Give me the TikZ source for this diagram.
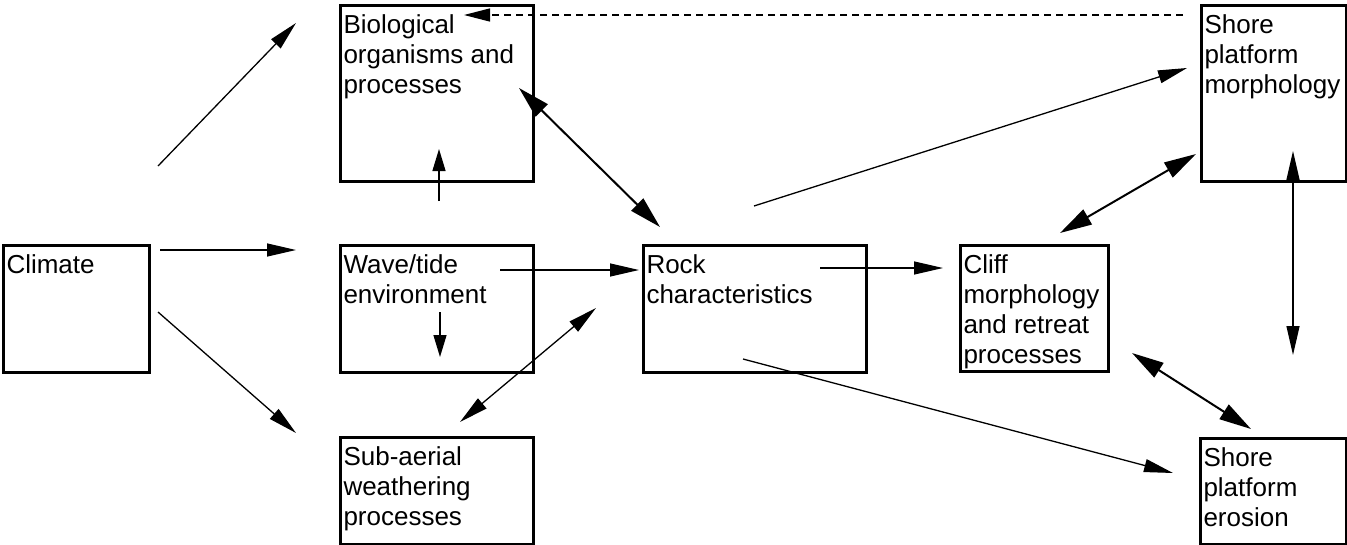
\documentclass[tikz,border=0pt]{standalone}
\usepackage{fontspec}
\setmainfont{Liberation Sans}
\usetikzlibrary{arrows.meta}
\newcommand{\bxt}[3]{\parbox[t][#2][t]{#1}{\raggedright\rule{0pt}{28pt}#3}}
\begin{document}
\begin{tikzpicture}[x=1pt,y=-1pt,
  box/.style={draw, line width=3pt, inner xsep=3pt, inner ysep=0pt, anchor=north west, font=\fontsize{26}{30}\selectfont},
  thin/.style={line width=1.3pt, -{Triangle[length=29pt,width=13pt]}},
  thinboth/.style={line width=1.3pt, {Triangle[length=29pt,width=13pt]}-{Triangle[length=29pt,width=13pt]}},
  thickboth/.style={line width=2pt, {Triangle[length=32pt,width=17pt]}-{Triangle[length=32pt,width=17pt]}},
  short/.style={line width=1.3pt, -{Triangle[length=22pt,width=13pt]}},
  dashedarrow/.style={line width=1.3pt, dash pattern=on 7pt off 5pt, -{Triangle[length=26pt,width=13pt]}}
]
\useasboundingbox (0,0) rectangle (1347,544);

\node[box] (clim) at (2,244) {\bxt{140pt}{127pt}{Climate}};
\node[box] (bio) at (339,4) {\bxt{187pt}{176pt}{Biological\\organisms and\\processes}};
\node[box] (wave) at (339,244) {\bxt{187pt}{127pt}{Wave/tide\\environment}};
\node[box] (sub) at (339,436) {\bxt{187pt}{107pt}{Sub-aerial\\weathering\\processes}};
\node[box] (rock) at (642,244) {\bxt{217pt}{127pt}{Rock\\characteristics}};
\node[box] (cliff) at (959,244) {\bxt{142pt}{126pt}{Cliff\\morphology\\and retreat\\processes}};
\node[box] (spm) at (1200,4) {\bxt{139pt}{176pt}{Shore\\platform\\morphology}};
\node[box] (spe) at (1199,437) {\bxt{140pt}{106pt}{Shore\\platform\\erosion}};

% free ends of connectors
\coordinate (cb1) at (158,166); \coordinate (cb2) at (296,23);
\coordinate (cw1) at (160,250); \coordinate (cw2) at (296,250);
\coordinate (cs1) at (158,312); \coordinate (cs2) at (296,433);
\coordinate (wb1) at (439,201); \coordinate (wb2) at (439,149);
\coordinate (wd1) at (440,312); \coordinate (wd2) at (440,357);
\coordinate (wr1) at (500,270); \coordinate (wr2) at (639,270);
\coordinate (sr1) at (460,422); \coordinate (sr2) at (596,308);
\coordinate (br1) at (519,88);  \coordinate (br2) at (660,227);
\coordinate (rm1) at (754,206); \coordinate (rm2) at (1187,68);
\coordinate (rc1) at (820,268); \coordinate (rc2) at (943,268);
\coordinate (re1) at (743,359); \coordinate (re2) at (1173,473);
\coordinate (cm1) at (1060,233); \coordinate (cm2) at (1196,154);
\coordinate (me1) at (1293,151); \coordinate (me2) at (1293,355);
\coordinate (ce1) at (1132,353); \coordinate (ce2) at (1251,429);
\coordinate (mb1) at (1183,15); \coordinate (mb2) at (464,15);

\draw[thin] (cb1) -- (cb2);
\draw[thin] (cw1) -- (cw2);
\draw[thin] (cs1) -- (cs2);
\draw[short] (wb1) -- (wb2);
\draw[short] (wd1) -- (wd2);
\draw[thin] (wr1) -- (wr2);
\draw[thinboth] (sr1) -- (sr2);
\draw[thickboth] (br1) -- (br2);
\draw[thin] (rm1) -- (rm2);
\draw[thin] (rc1) -- (rc2);
\draw[thin] (re1) -- (re2);
\draw[thickboth] (cm1) -- (cm2);
\draw[thinboth] (me1) -- (me2);
\draw[thickboth] (ce1) -- (ce2);
\draw[dashedarrow] (mb1) -- (mb2);
\end{tikzpicture}
\end{document}
